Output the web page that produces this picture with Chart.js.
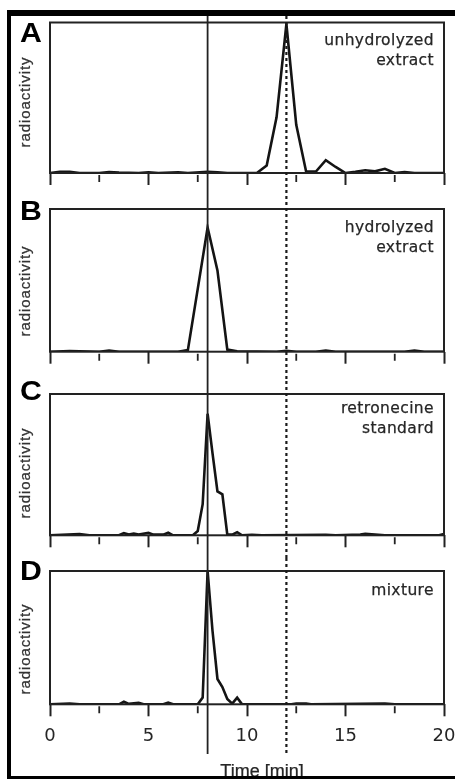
<!DOCTYPE html>
<html>
<head>
<meta charset="utf-8">
<script src="https://cdn.jsdelivr.net/npm/chart.js@4.4.0/dist/chart.umd.min.js"></script>
<style>
  html, body { margin: 0; padding: 0; background: #fff; overflow: hidden; }
  body { width: 455px; height: 779px; position: relative; font-family: "Liberation Sans", Arial, sans-serif; }
  canvas.panel { position: absolute; left: 12px; }
  .frame { position: absolute; left: 7px; top: 10px; width: 470px; height: 769px; box-sizing: border-box;
           border-top: 6px solid #000; border-left: 4px solid #000; border-bottom: 3px solid #000;
           pointer-events: none; z-index: 5; }
  .letter { position: absolute; left: 20px; font-weight: bold; font-size: 27px; line-height: 27px; color: #000;
            transform: scaleX(1.12); transform-origin: left top; }
  .note { position: absolute; right: 21px; text-align: right; font-family: "DejaVu Sans", sans-serif;
          font-size: 15.5px; line-height: 20px; letter-spacing: 0.4px; color: #262626;
          -webkit-text-stroke: 0.25px #262626; }
  .ylab { position: absolute; width: 130px; height: 20px; line-height: 20px; text-align: center;
          font-size: 15px; letter-spacing: 0.9px; color: #333; transform: rotate(-90deg);
          -webkit-text-stroke: 0.25px #333; }
  .xlab { position: absolute; left: 0; width: 524px; top: 762px; text-align: center; font-size: 18px;
          line-height: 18px; color: #262626; -webkit-text-stroke: 0.25px #262626; }
</style>
</head>
<body>
<canvas id="chartA" class="panel" width="460" height="180" style="top:16px"></canvas>
<canvas id="chartB" class="panel" width="460" height="185" style="top:196px"></canvas>
<canvas id="chartC" class="panel" width="460" height="177" style="top:381px"></canvas>
<canvas id="chartD" class="panel" width="460" height="223" style="top:558px"></canvas>

<div class="letter" style="top:19.5px">A</div>
<div class="letter" style="top:198px">B</div>
<div class="letter" style="top:378px">C</div>
<div class="letter" style="top:558px">D</div>

<div class="note" style="top:29.5px">unhydrolyzed<br>extract</div>
<div class="note" style="top:216.5px">hydrolyzed<br>extract</div>
<div class="note" style="top:397.5px">retronecine<br>standard</div>
<div class="note" style="top:579.5px">mixture</div>

<div class="ylab" style="left:-40px; top:92px">radioactivity</div>
<div class="ylab" style="left:-40px; top:281px">radioactivity</div>
<div class="ylab" style="left:-40px; top:463px">radioactivity</div>
<div class="ylab" style="left:-40px; top:639px">radioactivity</div>

<div class="xlab">Time [min]</div>
<div class="frame"></div>

<script>
// retention time (min) and radioactivity (% of panel height)
var timesA  = [0, 0.5, 1, 1.5, 2.5, 3, 3.5, 4.5, 5, 5.5, 6.5, 7, 8, 8.5, 9, 10.5, 11, 11.5, 12, 12.5, 13, 13.5, 14, 14.5, 15, 15.5, 16, 16.5, 17, 17.5, 18, 18.5, 20];
var valuesA = [0, 0.8, 0.8, 0, 0, 0.6, 0.3, 0, 0.5, 0, 0.5, 0, 0.8, 0.5, 0, 0, 5, 37, 99, 32, 1, 1, 8.5, 4, 0, 0.8, 1.8, 1.1, 2.8, 0, 0.6, 0, 0];

var timesB  = [0, 1, 2.5, 3, 3.5, 6.5, 7, 7.5, 8, 8.5, 9, 9.5, 11.5, 12, 12.5, 13.5, 14, 14.5, 18, 18.5, 19, 20];
var valuesB = [0, 0.4, 0, 0.8, 0, 0, 1.2, 44, 87, 57, 1.5, 0.3, 0, 0.6, 0, 0, 0.8, 0, 0, 0.8, 0, 0];

var timesC  = [0, 1.5, 2, 3.5, 3.75, 4, 4.25, 4.5, 5, 5.25, 5.75, 6, 6.25, 7.25, 7.5, 7.75, 8, 8.25, 8.5, 8.75, 9, 9.25, 9.5, 9.75, 10.25, 10.75, 14, 14.5, 15.75, 16, 16.5, 17, 19.75, 20];
var valuesC = [0, 0.8, 0, 0, 1.5, 0.6, 1.2, 0.5, 1.8, 0.5, 0.5, 1.8, 0, 0, 3, 22, 86, 58, 31, 29, 0.5, 0.5, 2.2, 0, 0.4, 0, 0.4, 0, 0.6, 1, 0.5, 0, 0, 1];

var timesD  = [0, 1, 1.5, 3.5, 3.75, 4, 4.5, 4.75, 5.75, 6, 6.25, 7.5, 7.75, 8, 8.25, 8.5, 8.75, 9, 9.25, 9.5, 9.75, 12.25, 12.5, 13, 13.25, 17, 17.5, 20];
var valuesD = [0, 0.6, 0, 0, 1.9, 0.3, 1.2, 0, 0, 1.2, 0, 0, 5, 100, 55, 19, 13, 4, 0.5, 5, 0, 0, 0.6, 0.5, 0, 0.5, 0, 0];

var timeTicks = [0, 5, 10, 15, 20];
var minorTicks = [2.5, 7.5, 12.5, 17.5];
var markerSolid = 8;    // retronecine
var markerDotted = 12;  // unhydrolyzed compound

function toPoints(times, values) {
  var pts = [];
  for (var i = 0; i < times.length; i++) {
    pts.push({x: times[i], y: values[i]});
  }
  return pts;
}

// box, minor ticks and the two retention-time markers
var panelDeco = {
  id: 'panelDeco',
  afterDatasetsDraw: function(chart, args, opts) {
    var ctx = chart.ctx, a = chart.chartArea, x = chart.scales.x;
    var end = opts.lineEnd || chart.height;
    ctx.save();
    ctx.strokeStyle = '#222';
    ctx.lineWidth = 2;
    ctx.strokeRect(a.left, a.top, a.right - a.left, a.bottom - a.top);

    ctx.lineWidth = 1.8;
    ctx.beginPath();
    minorTicks.forEach(function(v) {
      var px = x.getPixelForValue(v);
      ctx.moveTo(px, a.bottom + 2);
      ctx.lineTo(px, a.bottom + 9);
    });
    ctx.stroke();

    var p1 = x.getPixelForValue(markerSolid);
    ctx.lineWidth = 1.8;
    ctx.beginPath();
    ctx.moveTo(p1, 0);
    ctx.lineTo(p1, end);
    ctx.stroke();

    var p2 = x.getPixelForValue(markerDotted);
    ctx.strokeStyle = '#1a1a1a';
    ctx.lineWidth = 2.2;
    ctx.setLineDash([3, 3]);
    ctx.beginPath();
    ctx.moveTo(p2, 0);
    ctx.lineTo(p2, end);
    ctx.stroke();
    ctx.restore();
  }
};

function makePanel(id, times, values, pad, showLabels, lineEnd) {
  return new Chart(document.getElementById(id), {
    type: 'line',
    data: {
      datasets: [{
        data: toPoints(times, values),
        borderColor: '#141414',
        borderWidth: 2.6,
        pointRadius: 0,
        tension: 0,
        fill: false
      }]
    },
    options: {
      responsive: false,
      animation: false,
      events: [],
      layout: { padding: pad },
      plugins: {
        legend: { display: false },
        tooltip: { enabled: false },
        panelDeco: { lineEnd: lineEnd }
      },
      scales: {
        x: {
          type: 'linear',
          min: 0,
          max: 20,
          border: { display: false },
          grid: { drawOnChartArea: false, tickLength: 12, tickColor: '#222', tickWidth: 2 },
          afterBuildTicks: function(scale) {
            scale.ticks = timeTicks.map(function(v) { return {value: v}; });
          },
          ticks: {
            display: showLabels,
            padding: 9,
            color: '#262626',
            font: { family: '"DejaVu Sans", sans-serif', size: 18 }
          }
        },
        y: { display: false, min: 0, max: 100 }
      }
    },
    plugins: [panelDeco]
  });
}

makePanel('chartA', timesA, valuesA, {top: 6.5, bottom: 11, left: 38, right: 28}, false);
makePanel('chartB', timesB, valuesB, {top: 13, bottom: 17.3, left: 38, right: 28}, false);
makePanel('chartC', timesC, valuesC, {top: 13, bottom: 10.7, left: 38, right: 28}, false);
makePanel('chartD', timesD, valuesD, {top: 13, bottom: 25.1, left: 38, right: 28}, true, 196);
</script>
</body>
</html>
